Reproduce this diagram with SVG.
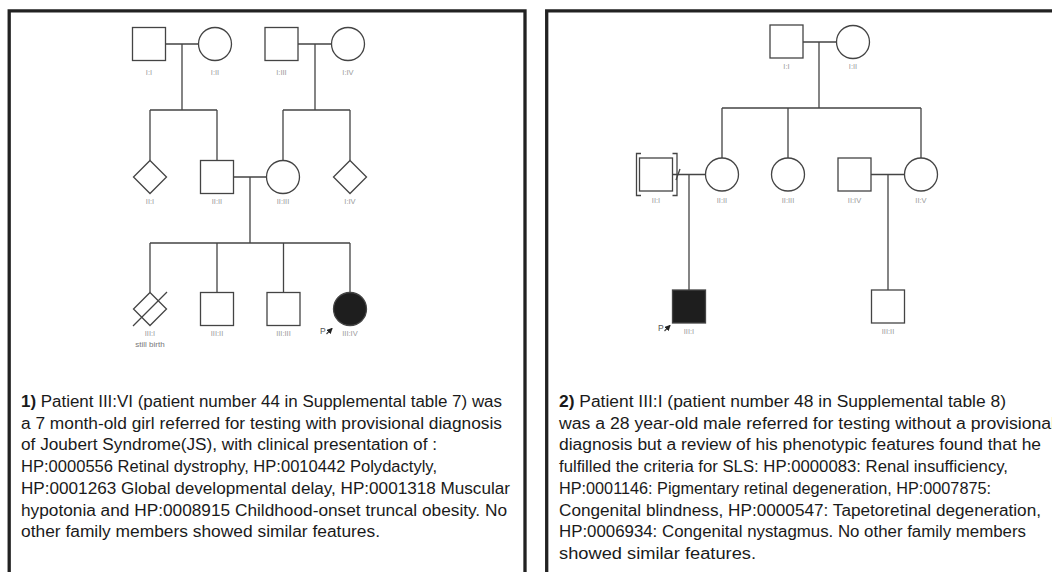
<svg xmlns="http://www.w3.org/2000/svg" width="1052" height="572" viewBox="0 0 1052 572">
<style>
.frame{fill:none;stroke:#222;stroke-width:3.3}
.n{fill:#fff;stroke:#444;stroke-width:1.3}
.aff{fill:#1e1e1e;stroke:#444;stroke-width:1.3}
.ln{fill:none;stroke:#444;stroke-width:1.3}
.lb{font-family:"Liberation Sans",Arial,sans-serif;font-size:7.5px;fill:#9a9a9a;text-anchor:middle}
.sb{font-family:"Liberation Sans",Arial,sans-serif;font-size:8px;fill:#777;text-anchor:middle}
.p{font-family:"Liberation Sans",Arial,sans-serif;font-size:8.5px;fill:#555}
.tx{font-family:"Liberation Sans",Arial,sans-serif;font-size:16px;fill:#1a1a1a}
.b{font-weight:bold}
</style>
<defs>
<marker id="ah" markerWidth="6" markerHeight="6" refX="5" refY="3" orient="auto" markerUnits="userSpaceOnUse">
<path d="M0,0 L6,3 L0,6 z" fill="#222"/>
</marker>
</defs>
<rect width="1052" height="572" fill="#fff"/>
<path class="frame" d="M9.2,575 V10.8 H525 V575"/>
<path class="frame" d="M546.7,575 V10.8 H1060"/>

<g id="connectors">
<path class="ln" d="M165.5,44 H198.5 M182,44 V110 M150,110 H217 M150,110 V160.5 M217,110 V160.5"/>
<path class="ln" d="M298,44 H331.5 M315,44 V110 M283,110 H350 M283,110 V160.5 M350,110 V160.5"/>
<path class="ln" d="M233.5,177 H266.5 M250,177 V243 M150,243 H350 M150,243 V292.5 M217,243 V292.5 M283.5,243 V292.5 M350,243 V292.5"/>
<path class="ln" d="M803,42 H836.5 M819,42 V108 M722,108 H921 M722,108 V158 M788,108 V158 M921,108 V158"/>
<path class="ln" d="M672.5,174.5 H705.5 M676,180 L680,169 M689,174.5 V290"/>
<path class="ln" d="M871,174.5 H904.5 M888,174.5 V290"/>
</g>

<g id="L-I-I"><rect class="n" x="132.5" y="27.5" width="33" height="33"/><text class="lb" x="149" y="75">I:I</text></g>
<g id="L-I-II"><circle class="n" cx="215" cy="44" r="16.5"/><text class="lb" x="215" y="75">I:II</text></g>
<g id="L-I-III"><rect class="n" x="265" y="27.5" width="33" height="33"/><text class="lb" x="281.5" y="75">I:III</text></g>
<g id="L-I-IV"><circle class="n" cx="348" cy="44" r="16.5"/><text class="lb" x="348" y="75">I:IV</text></g>

<g id="L-II-I"><path class="n" d="M150,160.5 L166.5,177 L150,193.5 L133.5,177 z"/><text class="lb" x="150" y="204">II:I</text></g>
<g id="L-II-II"><rect class="n" x="200.5" y="160.5" width="33" height="33"/><text class="lb" x="217" y="204">II:II</text></g>
<g id="L-II-III"><circle class="n" cx="283" cy="177" r="16.5"/><text class="lb" x="283" y="204">II:III</text></g>
<g id="L-II-IV"><path class="n" d="M350,160.5 L366.5,177 L350,193.5 L333.5,177 z"/><text class="lb" x="350" y="204">I:IV</text></g>

<g id="L-III-I"><path class="n" d="M150,292.5 L166.5,309 L150,325.5 L133.5,309 z"/><path class="ln" d="M133,326 L167,292"/><text class="lb" x="150" y="336">III:I</text><text class="sb" x="150" y="347">still birth</text></g>
<g id="L-III-II"><rect class="n" x="200.5" y="292.5" width="33" height="33"/><text class="lb" x="217" y="336">III:II</text></g>
<g id="L-III-III"><rect class="n" x="267" y="292.5" width="33" height="33"/><text class="lb" x="283.5" y="336">III:III</text></g>
<g id="L-III-IV"><circle class="aff" cx="350" cy="309" r="16.5"/><text class="lb" x="350" y="336">III:IV</text><text class="p" x="320" y="334">P</text><path class="ln" d="M326.5,334 L332,328.5" marker-end="url(#ah)"/></g>

<g id="R-I-I"><rect class="n" x="770" y="25" width="33" height="33"/><text class="lb" x="786.5" y="69">I:I</text></g>
<g id="R-I-II"><circle class="n" cx="853" cy="42" r="16.5"/><text class="lb" x="853" y="69">I:II</text></g>

<g id="R-II-I"><rect class="n" x="639.5" y="158" width="33" height="33"/><path class="ln" d="M641,153.5 H636.5 V195.5 H641 M672.5,153.5 H677 V195.5 H672.5"/><text class="lb" x="656" y="203">II:I</text></g>
<g id="R-II-II"><circle class="n" cx="722" cy="174.5" r="16.5"/><text class="lb" x="722" y="203">II:II</text></g>
<g id="R-II-III"><circle class="n" cx="788" cy="174.5" r="16.5"/><text class="lb" x="788" y="203">II:III</text></g>
<g id="R-II-IV"><rect class="n" x="838" y="158" width="33" height="33"/><text class="lb" x="854.5" y="203">II:IV</text></g>
<g id="R-II-V"><circle class="n" cx="921" cy="174.5" r="16.5"/><text class="lb" x="921" y="203">II:V</text></g>

<g id="R-III-I"><rect class="aff" x="672.5" y="290" width="33" height="33"/><text class="lb" x="689" y="334">III:I</text><text class="p" x="658" y="331">P</text><path class="ln" d="M664.5,331 L670,325.5" marker-end="url(#ah)"/></g>
<g id="R-III-II"><rect class="n" x="871.5" y="290" width="33" height="33"/><text class="lb" x="888" y="334">III:II</text></g>

<g id="text-1">
<text class="tx" x="21" y="407" textLength="481" lengthAdjust="spacingAndGlyphs"><tspan class="b">1)</tspan> Patient III:VI (patient number 44 in Supplemental table 7) was</text>
<text class="tx" x="21" y="428.7" textLength="481" lengthAdjust="spacingAndGlyphs">a 7 month-old girl referred for testing with provisional diagnosis</text>
<text class="tx" x="21" y="450.4" textLength="416" lengthAdjust="spacingAndGlyphs">of Joubert Syndrome(JS), with clinical presentation of :</text>
<text class="tx" x="21" y="472.1" textLength="416" lengthAdjust="spacingAndGlyphs">HP:0000556 Retinal dystrophy, HP:0010442 Polydactyly,</text>
<text class="tx" x="21" y="493.8" textLength="489" lengthAdjust="spacingAndGlyphs">HP:0001263 Global developmental delay, HP:0001318 Muscular</text>
<text class="tx" x="21" y="515.5" textLength="486" lengthAdjust="spacingAndGlyphs">hypotonia and HP:0008915 Childhood-onset truncal obesity. No</text>
<text class="tx" x="21" y="537.2" textLength="359" lengthAdjust="spacingAndGlyphs">other family members showed similar features.</text>
</g>
<g id="text-2">
<text class="tx" x="559" y="407" textLength="447" lengthAdjust="spacingAndGlyphs"><tspan class="b">2)</tspan> Patient III:I (patient number 48 in Supplemental table 8)</text>
<text class="tx" x="559" y="428.7" textLength="496" lengthAdjust="spacingAndGlyphs">was a 28 year-old male referred for testing without a provisional</text>
<text class="tx" x="559" y="450.4" textLength="482" lengthAdjust="spacingAndGlyphs">diagnosis but a review of his phenotypic features found that he</text>
<text class="tx" x="559" y="472.1" textLength="449" lengthAdjust="spacingAndGlyphs">fulfilled the criteria for SLS: HP:0000083: Renal insufficiency,</text>
<text class="tx" x="559" y="493.8" textLength="432" lengthAdjust="spacingAndGlyphs">HP:0001146: Pigmentary retinal degeneration, HP:0007875:</text>
<text class="tx" x="559" y="515.5" textLength="482" lengthAdjust="spacingAndGlyphs">Congenital blindness, HP:0000547: Tapetoretinal degeneration,</text>
<text class="tx" x="559" y="537.2" textLength="467" lengthAdjust="spacingAndGlyphs">HP:0006934: Congenital nystagmus. No other family members</text>
<text class="tx" x="559" y="558.9" textLength="197" lengthAdjust="spacingAndGlyphs">showed similar features.</text>
</g>
</svg>
